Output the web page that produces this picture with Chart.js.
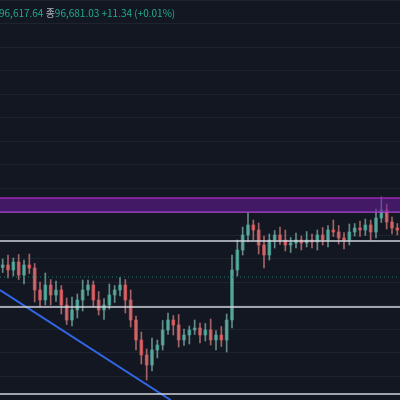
<!DOCTYPE html>
<html><head><meta charset="utf-8">
<script src="https://cdn.jsdelivr.net/npm/chart.js@4"></script>
<style>html,body{margin:0;background:#131722;}#w{position:relative;width:400px;height:400px;}
#t{position:absolute;left:-1px;top:5px;font:10px "Noto Sans CJK KR","Noto Sans",sans-serif;color:#22ab94;white-space:nowrap;}
#t b{font-weight:normal;color:#b2b5be}</style></head>
<body><div id="w"><canvas id="c" width="400" height="400"></canvas>
<div id="t">96,617.64 <b>종</b>96,681.03 +11.34 (+0.01%)</div></div>
<script>
const closes=[94700,94600,94760,94500,94700,94640,94200,94000,94300,94100,94200,93900,93600,93800,94000,94200,94300,94000,93800,93900,94100,94200,94300,94000,93600,93200,92900,92700,93000,93100,93400,93600,93500,93200,93300,93400,93440,93300,93400,93200,93300,93200,93600,94600,95000,95300,95500,95400,95100,94900,95200,95300,95200,95100,95140,95200,95140,95200,95160,95300,95200,95400,95360,95240,95200,95360,95440,95400,95500,95360,95640,95800,95560,95440,95400];
const wickHi=[120,200,80,150,100,220,90,160,240,110,180,90,140,260,120,200,100,80,170,130,220,90,150,110,200,80,160,120,240,100,190,140,90,210,120,80,160,100,130,220,90,170,120,300,200,160,240,100,140,180,120,90,160,200,110,140,80,170,120,100,150,90,200,130,110,160,90,140,120,100,180,260,120,100,90];
const wickLo=[100,160,120,90,180,110,240,140,100,200,130,180,90,120,160,220,110,140,100,190,80,150,120,260,140,200,180,300,120,160,100,90,200,140,110,180,90,160,120,100,200,130,240,160,120,100,140,200,180,260,100,160,90,120,150,100,140,80,120,160,100,140,90,120,180,100,80,130,110,160,120,90,140,120,100];
const opens=closes.map((v,i)=>i?closes[i-1]:94650);
const n=closes.length;
const bodies=closes.map((c,i)=>({x:i,y:[opens[i],c]}));
const wicks=closes.map((c,i)=>({x:i,y:[Math.min(opens[i],c)-wickLo[i],Math.max(opens[i],c)+wickHi[i]]}));
const cols=closes.map((c,i)=>c>=opens[i]?'rgba(60,160,145,0.9)':'rgba(215,80,85,0.9)');
const colsW=closes.map((c,i)=>c>=opens[i]?'rgba(120,170,160,0.8)':'rgba(200,120,120,0.8)');
const L=-0.5,R=n-0.5;
const hl=(y,col,w,dash)=>({type:'line',data:[{x:L,y},{x:R,y}],borderColor:col,borderWidth:w,borderDash:dash||[],pointRadius:0,fill:false});
new Chart(document.getElementById('c'),{
data:{datasets:[
{type:'line',data:[{x:L,y:96040},{x:R,y:96040}],borderColor:'#9c27b0',borderWidth:1.5,pointRadius:0,fill:'+1',backgroundColor:'rgba(106,27,154,0.55)'},
{type:'line',data:[{x:L,y:95760},{x:R,y:95760}],borderColor:'#b04bd0',borderWidth:1.5,pointRadius:0,fill:false},
hl(95180,'#d1d4dc',1.5),hl(93860,'#d1d4dc',1.5),hl(92120,'#d1d4dc',1.5),
hl(94460,'#1f7a6c',1,[1,3]),
{type:'line',data:[{x:L,y:94200},{x:31.5,y:92000}],borderColor:'#3366e6',borderWidth:2,pointRadius:0,fill:false},
{type:'bar',data:wicks,backgroundColor:colsW,barThickness:1,grouped:false},
{type:'bar',data:bodies,backgroundColor:cols,barThickness:3,grouped:false}
]},
options:{animation:false,responsive:false,plugins:{legend:{display:false},tooltip:{enabled:false}},
layout:{padding:0},
scales:{x:{type:'linear',min:L,max:R,offset:false,display:false},
y:{min:92000,max:100000,border:{display:false},grid:{color:'#1f2330',drawTicks:false},ticks:{display:false,stepSize:460}}}}
});
</script></body></html>
